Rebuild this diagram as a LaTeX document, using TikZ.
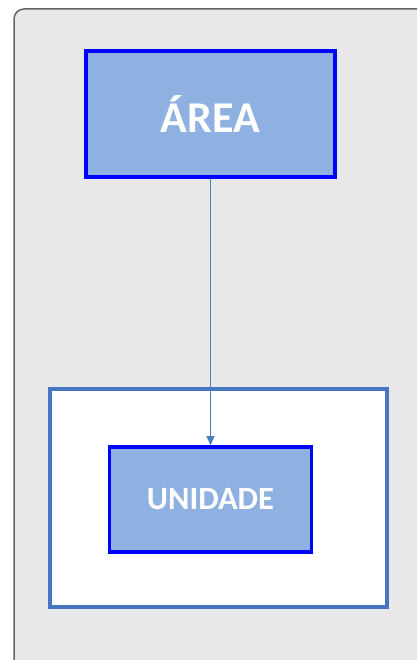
\documentclass[tikz,border=0pt]{standalone}
\usepackage{fontspec}
\newfontfamily\boxfont{Carlito}
\usetikzlibrary{arrows.meta}
\definecolor{pagegray}{HTML}{E8E8E8}
\definecolor{edgegray}{HTML}{646464}
\definecolor{boxfill}{HTML}{8FB1E1}
\definecolor{boxedge}{HTML}{0000FF}
\definecolor{framedge}{HTML}{4775C2}
\definecolor{linkblue}{HTML}{4A7CC4}

\begin{document}
\begin{tikzpicture}[x=1pt,y=-1pt]
    \tikzstyle{entity}=[draw=boxedge, fill=boxfill, line width=3.8pt, text=white,
        inner sep=0pt]
    \useasboundingbox (0,0) rectangle (417,660);
    \begin{scope}
        \clip (0,0) rectangle (417,660);
        \draw [fill=pagegray, draw=edgegray, line width=1.5pt, rounded corners=10pt]
            (14,9) rectangle (440,672);
    \end{scope}
    \node[draw=framedge, fill=white, line width=3.8pt, minimum width=337pt,
        minimum height=218pt] (frame) at (218.5,498) {};
    \foreach \t/\l/\x/\y/\w/\h/\s in { area/ÁREA/210.5/114/249/126/44,
        unidade/UNIDADE/210.5/499.5/202/105/32.5 }
        \node[entity, minimum width=\w pt, minimum height=\h pt,
            font=\boxfont\bfseries\fontsize{\s}{\s}\selectfont] (\t) at (\x,\y) {\l};
    \draw [-{Triangle[length=9pt,width=8pt]}, draw=linkblue, fill=linkblue, line width=1pt]
        (area.south) -- (unidade.north);
\end{tikzpicture}
\end{document}
